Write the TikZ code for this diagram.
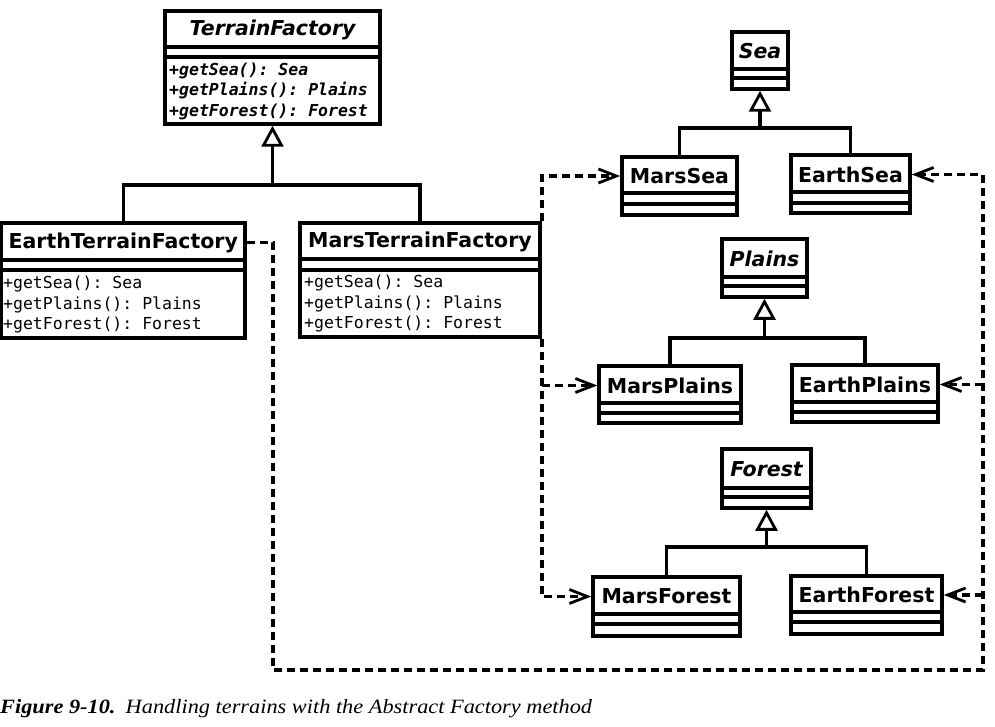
\documentclass[tikz,border=0pt]{standalone}
\usepackage{fontspec}
\setmainfont{DejaVu Sans}
\setmonofont{DejaVu Sans Mono}
\newfontfamily\capfont[FakeStretch=1.1]{Liberation Serif}
\usetikzlibrary{arrows.meta}
\tikzset{
  cls/.style={draw, line width=3.5pt, fill=white, inner sep=0pt, rectangle},
  sep/.style={line width=3.5pt},
  clsname/.style={font=\fontsize{20.5}{24}\selectfont\bfseries, inner sep=0pt},
  absname/.style={font=\fontsize{20.5}{24}\selectfont\bfseries\itshape, inner sep=0pt},
  meth/.style={font=\fontsize{16.5}{20.5}\selectfont\ttfamily, align=left, inner sep=0pt, anchor=west},
  absmeth/.style={font=\fontsize{16.5}{20.5}\selectfont\ttfamily\bfseries\itshape, align=left, inner sep=0pt, anchor=west},
  gen/.style={line width=3.5pt, -{Triangle[length=21pt,width=22pt,fill=white,line width=2.8pt]}},
  assoc/.style={line width=3.5pt},
  dep/.style={line width=3.5pt, dash pattern=on 8pt off 5pt, -{Straight Barb[length=18pt,width=14pt,line width=2.8pt]}},
}
% #1 name, #2 x1, #3 top, #4 x2, #5 bottom, #6 line1, #7 line2, #8 style, #9 text
\newcommand\umlbox[9]{%
  \node[cls, minimum width={#4-#2}, minimum height={#5-#3}] (#1) at ({(#2+#4)/2},{(#3+#5)/2}) {};
  \draw[sep] (#2,#6) -- (#4,#6) (#2,#7) -- (#4,#7);
  \node[#8] (#1n) at ({(#2+#4)/2},{(#3+#6)/2+1}) {#9};
}
\begin{document}
\begin{tikzpicture}[x=1pt,y=-1pt]
\useasboundingbox (0,0) rectangle (995,727);

\coordinate (eL) at (273,670);
\coordinate (eR) at (983,670);

% boxes
\umlbox{TF}{165}{11}{380}{124}{47}{57}{absname}{TerrainFactory}
\node[absmeth] (TFm) at (169,91) {+getSea(): Sea\\+getPlains(): Plains\\+getForest(): Forest};

\umlbox{ETF}{1.5}{223}{245}{338}{260}{270}{clsname}{EarthTerrainFactory}
\node[meth] (ETFm) at (3,305) {+getSea(): Sea\\+getPlains(): Plains\\+getForest(): Forest};

\umlbox{MTF}{300}{223}{540}{337}{259}{270}{clsname}{MarsTerrainFactory}
\node[meth] (MTFm) at (304,304) {+getSea(): Sea\\+getPlains(): Plains\\+getForest(): Forest};

\umlbox{Sea}{732}{32}{788}{89}{69}{78}{absname}{Sea}
\umlbox{MS}{622}{157}{737}{215}{193}{204}{clsname}{MarsSea}
\umlbox{ES}{791}{155}{910}{213}{192}{203}{clsname}{EarthSea}

\umlbox{Pl}{722}{239}{807}{297}{277}{286}{absname}{Plains}
\umlbox{MP}{599}{366}{741}{423}{403}{413}{clsname}{MarsPlains}
\umlbox{EP}{792}{365}{938}{422}{402}{412}{clsname}{EarthPlains}

\umlbox{Fo}{722}{449}{811}{508}{488}{497}{absname}{Forest}
\umlbox{MF}{593}{577}{740}{636}{614}{624}{clsname}{MarsForest}
\umlbox{EF}{791}{576}{942}{634}{612}{622}{clsname}{EarthForest}

% generalisations
\coordinate (tfj) at (272.5,185);
\draw[assoc] (ETF.north) |- (tfj) -| (MTF.north);
\draw[gen] (tfj) -- (TF.south);

\coordinate (seaj) at (760,128);
\draw[assoc] (MS.north) |- (seaj) -| (ES.north);
\draw[gen] (seaj) -- (Sea.south);

\coordinate (plj) at (764.5,338);
\draw[assoc] (MP.north) |- (plj) -| (EP.north);
\draw[gen] (plj) -- (Pl.south);

\coordinate (foj) at (766.5,547);
\draw[assoc] (MF.north) |- (foj) -| (EF.north);
\draw[gen] (foj) -- (Fo.south);

% dependencies: Mars factory
\draw[dep] (MTF.north east) -- (MTF.north east |- MSn) -- (MS.west |- MSn);
\draw[dep] (MTF.south east) -- (MTF.south east |- MFn) -- (MF.west |- MFn);
\draw[dep] (MTF.south east |- MPn) -- (MP.west |- MPn);

% dependencies: Earth factory
\draw[dep] (ETF.east |- ETFn) -| (eL) -- (eR) -- (eR |- ESn) -- (ES.east |- ESn);
\draw[dep] (eR |- EPn) -- (EP.east |- EPn);
\draw[dep] (eR |- EFn) -- (EF.east |- EFn);

% caption
\node[anchor=base west, inner sep=0pt, font=\capfont\fontsize{20.3}{23}\selectfont] (cap) at (0,713)
  {\bfseries\itshape Figure 9-10.\hspace{0.5em}\mdseries Handling terrains with the Abstract Factory method};
\end{tikzpicture}
\end{document}
